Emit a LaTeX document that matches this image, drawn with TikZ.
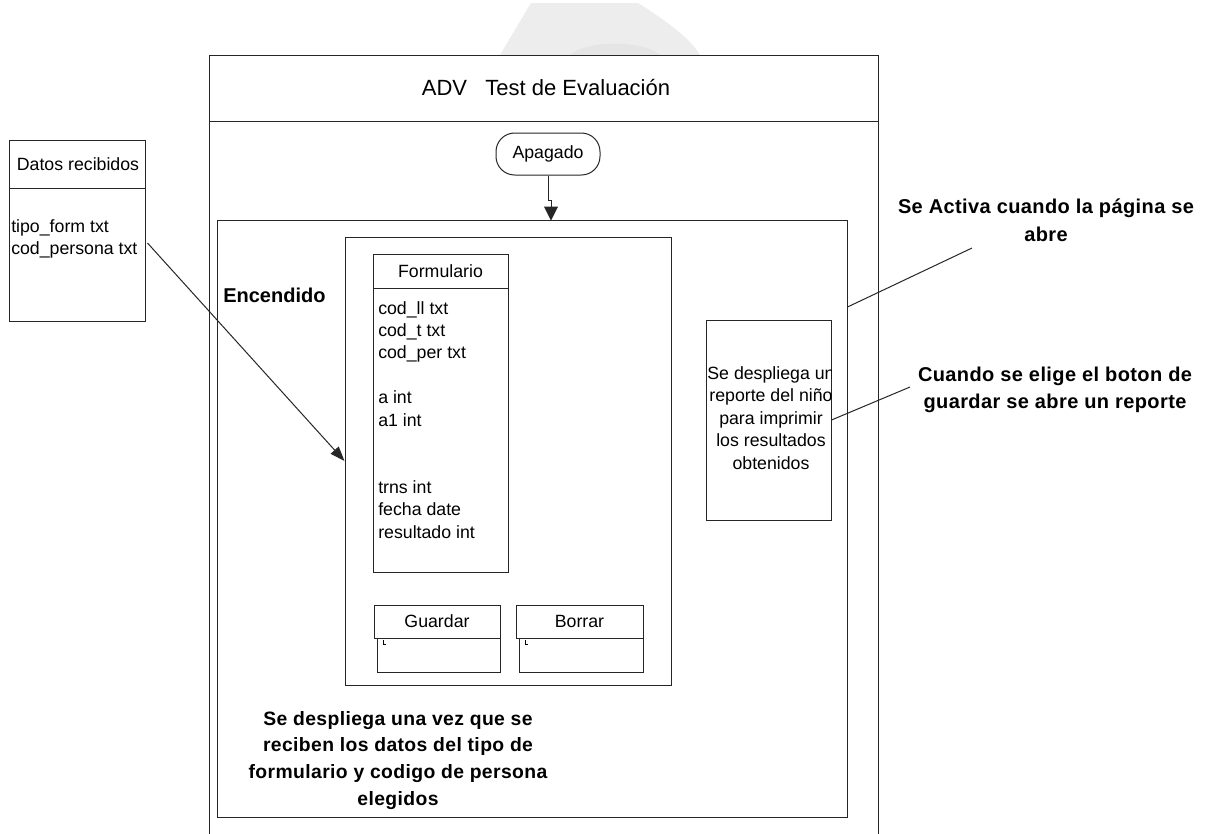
\documentclass[tikz,border=0pt]{standalone}
\usepackage{fontspec}
\setmainfont{Liberation Sans}
\newfontfamily\annfont[LetterSpace=2]{Liberation Sans}
\usetikzlibrary{arrows.meta,fit,calc}
\begin{document}
\begin{tikzpicture}[x=0.75pt,y=-0.75pt,
  ln/.style={line width=0.75pt, draw=black!85},
  box/.style={ln, inner sep=0pt},
  txt/.style={font=\fontsize{13.3}{16}\selectfont, inner sep=0pt},
  fld/.style={txt, anchor=base west},
  ctr/.style={txt, anchor=base},
  ann/.style={font=\annfont\bfseries\fontsize{15}{18}\selectfont, inner sep=0pt, anchor=base},
  annb/.style={font=\annfont\bfseries\fontsize{14.5}{18}\selectfont, inner sep=0pt, anchor=base},
  arr/.style={ln, -{Triangle[length=10.5pt,width=10.5pt]}},
  arrs/.style={ln, -{Triangle[length=11pt,width=8pt]}}
]
\clip (0,0) rectangle (1208,833);
\fill[white] (0,0) rectangle (1208,833);
% faint watermark
\fill[black!7] (500,55) -- (531,3) -- (638,3) .. controls (665,20) and (690,38) .. (700,55) -- cycle;
\fill[black!10] (570,55) .. controls (585,40) and (645,40) .. (660,55) -- cycle;

% outer frame
\node[box, draw, fit={(209,55) (878,860)}] (outer) {};
\draw[ln] (209,121) -- (878,121);
\node[font=\fontsize{16.5}{20}\selectfont, inner sep=0pt, anchor=base] (title) at (546,95) {ADV\ \ \ Test de Evaluación};

% Apagado
\node[box, draw, rounded corners=14pt, fit={(496,133) (600,175)}] (apagado) {};
\node[txt] (apagadot) at (apagado.center) {Apagado};

% Encendido
\node[box, draw, fit={(217,220) (847,817)}] (enc) {};
\node[font=\bfseries\fontsize{15}{18}\selectfont, inner sep=0pt, anchor=base west] (enct) at (223,302) {Encendido};

\draw[arr] (apagado.south) -- ++(0,25) -- ++(3,0) -- ++(0,20);

% inner container
\node[box, draw, fit={(345,237) (671,685)}] (inner) {};

% Formulario
\node[box, draw, fit={(373,254) (508,572)}] (form) {};
\draw[ln] (373,288) -- (508,288);
\node[txt] (formt) at (440.5,271) {Formulario};
\node[fld] (f1) at (378,314) {cod\_ll txt};
\node[fld] (f2) at (378,336.4) {cod\_t txt};
\node[fld] (f3) at (378,358.8) {cod\_per txt};
\node[fld] (f4) at (378,403.6) {a int};
\node[fld] (f5) at (378,426) {a1 int};
\node[fld] (f6) at (378,493.2) {trns int};
\node[fld] (f7) at (378,515.6) {fecha date};
\node[fld] (f8) at (378,538) {resultado int};

% buttons
\node[box, draw, fit={(377,638) (500,672)}] (guardarb) {};
\node[box, draw, fill=white, fit={(374,605) (500,638)}] (guardar) {};
\node[txt] (guardart) at (guardar.center) {Guardar};
\draw[line width=0.6pt] (383,640) -- (383,644) -- (386,644);
\node[box, draw, fit={(519,638) (643,672)}] (borrarb) {};
\node[box, draw, fill=white, fit={(516,605) (643,638)}] (borrar) {};
\node[txt] (borrart) at (borrar.center) {Borrar};
\draw[line width=0.6pt] (525,640) -- (525,644) -- (528,644);

% report box
\node[box, draw, fit={(706,320) (831,520)}] (report) {};
\begin{scope}
\clip (706,320) rectangle (831,520);
\node[ctr] (r1) at (771,379) {Se despliega un};
\node[ctr] (r2) at (771,401.5) {reporte del niño};
\node[ctr] (r3) at (771,424) {para imprimir};
\node[ctr] (r4) at (771,446.5) {los resultados};
\node[ctr] (r5) at (771,469) {obtenidos};
\end{scope}

% Datos recibidos
\node[box, draw, fit={(9,140) (145,321)}] (datos) {};
\draw[ln] (9,188) -- (145,188);
\node[ctr] (datost) at (78,170) {Datos recibidos};
\node[fld] (d1) at (11,232) {tipo\_form txt};
\node[fld] (d2) at (11,254) {cod\_persona txt};

\draw[arrs] ($(datos.east)+(2,12.5)$) -- (inner.west);

% bottom note
\node[annb] (b1) at (398,725) {Se despliega una vez que se};
\node[annb] (b2) at (398,751.5) {reciben los datos del tipo de};
\node[annb] (b3) at (398,778) {formulario y codigo de persona};
\node[annb] (b4) at (398,805) {elegidos};

% annotations
\node[ann] (a1) at (1046,213) {Se Activa cuando la página se};
\node[ann] (a2) at (1046,241.5) {abre};
\coordinate (a1end) at (972,248);
\draw[ln] ($(enc.east)+(0,-211.5)$) -- (a1end);

\node[ann] (c1) at (1055,381.5) {Cuando se elige el boton de};
\node[ann] (c2) at (1055,408) {guardar se abre un reporte};
\coordinate (c1end) at (910,387);
\draw[ln] (report.east) -- (c1end);
\end{tikzpicture}
\end{document}
